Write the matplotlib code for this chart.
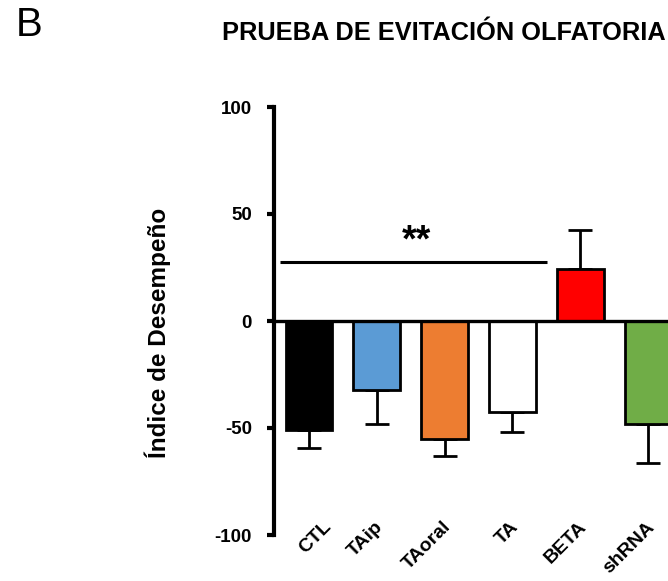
import numpy as np
import matplotlib
matplotlib.use("Agg")
import matplotlib.pyplot as plt
import matplotlib.transforms as mtransforms

plt.rcParams["font.family"] = ["Liberation Sans", "DejaVu Sans"]

# data
groups = ["CTL", "TAip", "TAoral", "TA", "BETA", "shRNA"]
means = [-50.9, -32.2, -55.1, -42.5, 24.3, -48.1]
sems = [8.4, 15.9, 8.0, 9.4, 18.2, 18.3]
colors = ["#000000", "#5B9BD5", "#ED7D31", "#FFFFFF", "#FF0000", "#70AD47"]
yticks = [-100, -50, 0, 50, 100]
sig_span = (-0.43, 3.51)
sig_y = 27.6
sig_label = "**"

W, H = 668, 581
fig = plt.figure(figsize=(W / 100, H / 100), dpi=100)
ax = fig.add_axes([274 / W, (H - 535) / H, 1 - 274 / W, (535 - 107) / H])

x = np.arange(len(groups))
means_a = np.array(means)
sems_a = np.array(sems)
# one-sided error bars, pointing away from zero
lower = np.where(means_a < 0, sems_a, 0)
upper = np.where(means_a >= 0, sems_a, 0)

ax.errorbar(x, means_a, yerr=[lower, upper], fmt="none", ecolor="black",
            elinewidth=2, capsize=8.3, capthick=2, zorder=1)
ax.bar(x, means_a, width=0.69, color=colors, edgecolor="black", linewidth=2, zorder=2)
ax.axhline(0, color="black", lw=2.4, zorder=3)

# significance bracket
ax.plot(sig_span, [sig_y, sig_y], color="black", lw=2.2, solid_capstyle="butt")
ax.text(1.59, sig_y + 9.5, sig_label, ha="center", va="center",
        fontsize=27, fontweight="bold")

ax.set_xlim(-0.516, 5.295)
ax.set_ylim(-100, 100)
ax.set_yticks(yticks)
ax.set_yticklabels([str(t) for t in yticks], fontsize=13.5, fontweight="bold")
ax.tick_params(axis="y", direction="out", length=5, width=3, pad=11)
ax.set_xticks(x)
ax.set_xticklabels(groups, fontsize=14, fontweight="bold", rotation=45,
                   ha="right", va="center", rotation_mode="anchor")
ax.tick_params(axis="x", length=0, pad=1)
for i, lab in enumerate(ax.get_xticklabels()):
    dx = 20 if i == 0 else 4
    lab.set_transform(lab.get_transform() +
                      mtransforms.ScaledTranslation(dx / 100, 12 / 100, fig.dpi_scale_trans))

for s in ("top", "right", "bottom"):
    ax.spines[s].set_visible(False)
ax.spines["left"].set_linewidth(3)

fig.text(158 / W, 1 - 333 / H, "Índice de Desempeño", rotation=90, ha="center",
         va="center", fontsize=17.5, fontweight="bold")
fig.text(443.5 / W, 1 - 33.5 / H, "PRUEBA DE EVITACIÓN OLFATORIA", ha="center",
         va="center", fontsize=18.3, fontweight="bold")
fig.text(29 / W, 1 - 24.5 / H, "B", ha="center", va="center", fontsize=29)

fig.savefig("out.png", dpi=100)
